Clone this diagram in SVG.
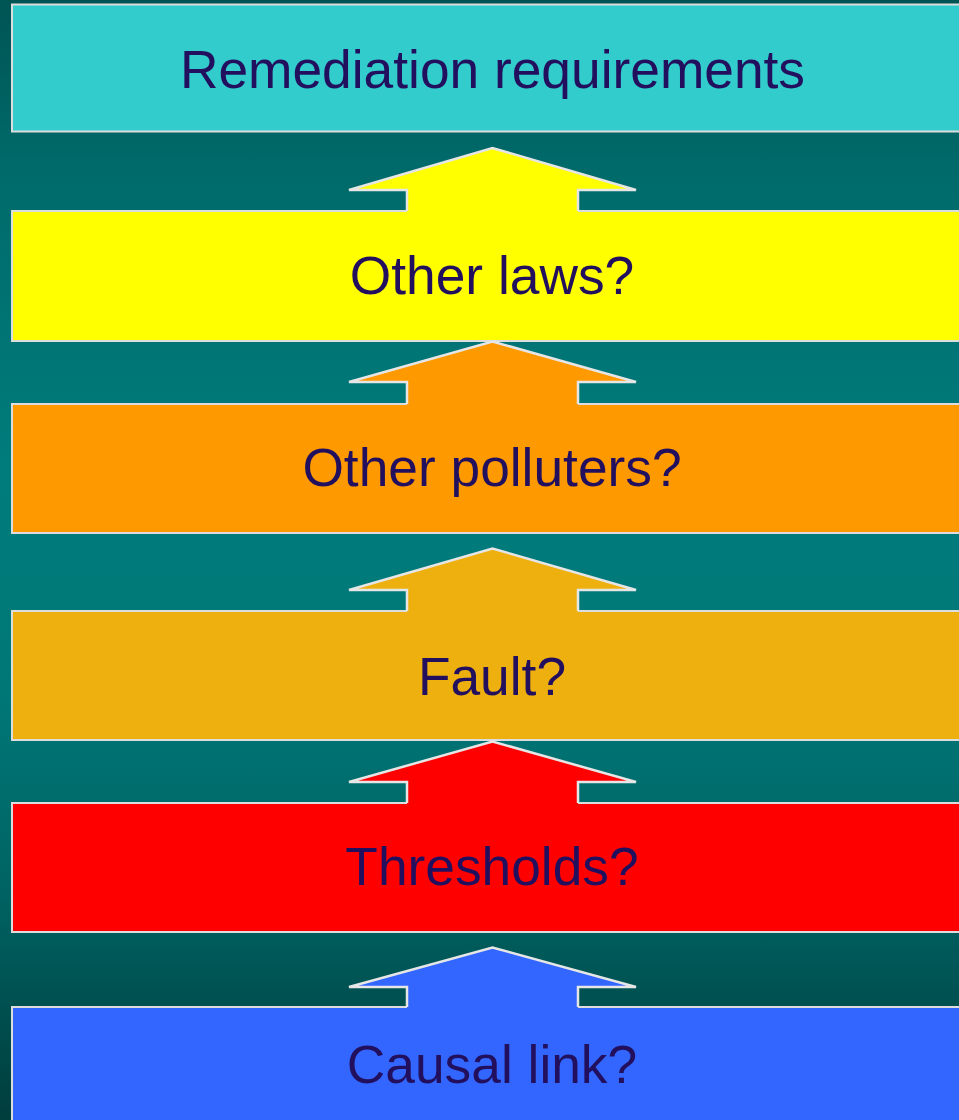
<svg xmlns="http://www.w3.org/2000/svg" width="959" height="1120" viewBox="0 0 959 1120">
  <defs>
    <linearGradient id="bg" x1="0" y1="0" x2="0" y2="1">
      <stop offset="0" stop-color="#005454"/>
      <stop offset="0.15" stop-color="#006a6a"/>
      <stop offset="0.42" stop-color="#007c7c"/>
      <stop offset="0.62" stop-color="#007777"/>
      <stop offset="0.8" stop-color="#006262"/>
      <stop offset="1" stop-color="#003d3d"/>
    </linearGradient>
  </defs>
  <style>
    .box { stroke: #dddddd; stroke-width: 2; }
    .arrow { stroke: #e6e6e6; stroke-width: 2.5; stroke-linejoin: miter; }
    .lbl { font-family: "Liberation Sans", Arial, sans-serif; font-size: 53.3px; fill: #22105e; text-anchor: middle; }
  </style>
  <rect x="0" y="0" width="959" height="1120" fill="url(#bg)"/>

  <g id="remediation">
    <rect class="box" x="12" y="4.5" width="960" height="127" fill="#33cccc"/>
    <text class="lbl" x="492.5" y="88">Remediation requirements</text>
  </g>
  <g id="other-laws">
    <rect class="box" x="12" y="211" width="960" height="130" fill="#ffff00"/>
    <text class="lbl" x="492" y="294">Other laws?</text>
  </g>
  <g id="other-polluters">
    <rect class="box" x="12" y="404" width="960" height="129" fill="#ff9900"/>
    <text class="lbl" x="492" y="486">Other polluters?</text>
  </g>
  <g id="fault">
    <rect class="box" x="12" y="611" width="960" height="129" fill="#eeb00f"/>
    <text class="lbl" x="492" y="695">Fault?</text>
  </g>
  <g id="thresholds">
    <rect class="box" x="12" y="803" width="960" height="129" fill="#ff0000"/>
    <text class="lbl" x="492" y="885">Thresholds?</text>
  </g>
  <g id="causal-link">
    <rect class="box" x="12" y="1007" width="960" height="130" fill="#3366ff"/>
    <text class="lbl" x="492" y="1083">Causal link?</text>
  </g>

  <g id="connectors">
    <path fill="#ffff00" d="M407,213 L407,190 L349,190 L492.5,148 L636,190 L578,190 L578,213 Z"/>
    <path class="arrow" fill="none" d="M407,211 L407,190 L349,190 L492.5,148 L636,190 L578,190 L578,211"/>
    <path fill="#ff9900" d="M407,406 L407,382 L349,382 L492.5,341.5 L636,382 L578,382 L578,406 Z"/>
    <path class="arrow" fill="none" d="M407,404 L407,382 L349,382 L492.5,341.5 L636,382 L578,382 L578,404"/>
    <path fill="#eeb00f" d="M407,613 L407,590 L349,590 L492.5,548.5 L636,590 L578,590 L578,613 Z"/>
    <path class="arrow" fill="none" d="M407,611 L407,590 L349,590 L492.5,548.5 L636,590 L578,590 L578,611"/>
    <path fill="#ff0000" d="M407,805 L407,782 L349,782 L492.5,741.5 L636,782 L578,782 L578,805 Z"/>
    <path class="arrow" fill="none" d="M407,803 L407,782 L349,782 L492.5,741.5 L636,782 L578,782 L578,803"/>
    <path fill="#3366ff" d="M407,1009 L407,987 L349,987 L492.5,947.5 L636,987 L578,987 L578,1009 Z"/>
    <path class="arrow" fill="none" d="M407,1007 L407,987 L349,987 L492.5,947.5 L636,987 L578,987 L578,1007"/>
  </g>
</svg>
